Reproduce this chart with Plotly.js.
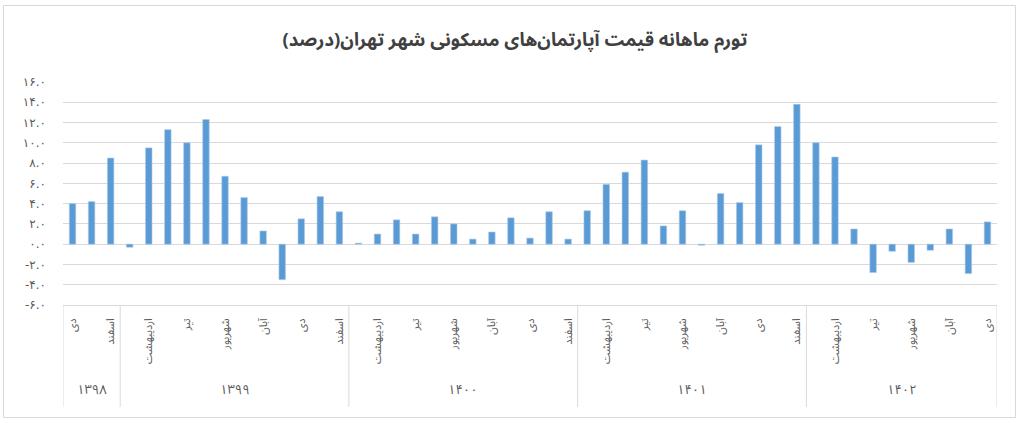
<!DOCTYPE html>
<html>
<head>
<meta charset="utf-8">
<script src="https://cdn.plot.ly/plotly-3.0.1.min.js"></script>
<style>
  html, body { margin: 0; padding: 0; background: #ffffff; }
  #chart { width: 1024px; height: 423px; }
</style>
</head>
<body>
<div id="chart"></div>
<script>
// ---- Data ----
const titleText = 'تورم ماهانه قیمت آپارتمان‌های مسکونی شهر تهران(درصد)';

const yearLabels = ['۱۳۹۸', '۱۳۹۹', '۱۴۰۰', '۱۴۰۱', '۱۴۰۲'];
const yearCounts = [3, 12, 12, 12, 10];

const months = [
  'دی', 'بهمن', 'اسفند',
  'فروردین', 'اردیبهشت', 'خرداد', 'تیر', 'مرداد', 'شهریور', 'مهر', 'آبان', 'آذر', 'دی', 'بهمن', 'اسفند',
  'فروردین', 'اردیبهشت', 'خرداد', 'تیر', 'مرداد', 'شهریور', 'مهر', 'آبان', 'آذر', 'دی', 'بهمن', 'اسفند',
  'فروردین', 'اردیبهشت', 'خرداد', 'تیر', 'مرداد', 'شهریور', 'مهر', 'آبان', 'آذر', 'دی', 'بهمن', 'اسفند',
  'فروردین', 'اردیبهشت', 'خرداد', 'تیر', 'مرداد', 'شهریور', 'مهر', 'آبان', 'آذر', 'دی'
];

const values = [
  4.0, 4.2, 8.5,
  -0.3, 9.5, 11.3, 10.0, 12.3, 6.7, 4.6, 1.3, -3.5, 2.5, 4.7, 3.2,
  0.1, 1.0, 2.4, 1.0, 2.7, 2.0, 0.5, 1.2, 2.6, 0.6, 3.2, 0.5,
  3.3, 5.9, 7.1, 8.3, 1.8, 3.3, -0.1, 5.0, 4.1, 9.8, 11.6, 13.8,
  10.0, 8.6, 1.5, -2.8, -0.7, -1.8, -0.6, 1.5, -2.9, 2.2
];

const yTickVals = [-6, -4, -2, 0, 2, 4, 6, 8, 10, 12, 14, 16];

// ---- Helpers ----
const faDigits = ['۰','۱','۲','۳','۴','۵','۶','۷','۸','۹'];
function toFa(str) { return String(str).replace(/[0-9]/g, d => faDigits[+d]); }
const yTickText = yTickVals.map(v => (v < 0 ? '-' : '') + toFa(Math.abs(v).toFixed(1)));

const xIdx = months.map((_, i) => i);
const shownIdx = xIdx.filter(i => i % 2 === 0);
const shownText = shownIdx.map(i => months[i]);

const FONT = '"Noto Sans Arabic", "Noto Sans", "DejaVu Sans", sans-serif';
const TICKFONT = '"DejaVu Sans", "Noto Sans", sans-serif';
const GRID = '#d9d9d9';

// plot area geometry in px (for paper conversion of outside decorations)
const W = 1024, H = 423;
const M = { l: 63, r: 27, t: 82, b: 118 };
const plotH = H - M.t - M.b;
const plotW = W - M.l - M.r;
const pyToPaper = py => (H - M.b - py) / plotH;
const pxToPaper = px => (px - M.l) / plotW;

// group boundaries & year label positions
const shapes = [];
const annotations = [];
let start = 0;
const boundaries = [-0.5];
yearCounts.forEach((c, gi) => {
  const center = start + (c - 1) / 2;
  annotations.push({
    x: center, xref: 'x', y: pyToPaper(390), yref: 'paper',
    text: yearLabels[gi], showarrow: false,
    font: { family: FONT, size: 13, color: '#595959' },
    xanchor: 'center', yanchor: 'middle'
  });
  start += c;
  boundaries.push(start - 0.5);
});
boundaries.forEach(b => {
  shapes.push({
    type: 'line', xref: 'x', yref: 'paper',
    x0: b, x1: b, y0: 0, y1: pyToPaper(407),
    line: { color: GRID, width: 1 }
  });
});
// outer chart border
shapes.push({
  type: 'rect', xref: 'paper', yref: 'paper',
  x0: pxToPaper(3.5), x1: pxToPaper(1015.5), y0: pyToPaper(417.5), y1: pyToPaper(5.5),
  line: { color: GRID, width: 1 }, fillcolor: 'rgba(0,0,0,0)', layer: 'below'
});

const trace = {
  type: 'bar',
  x: xIdx,
  y: values,
  marker: { color: '#5b9bd5', line: { color: '#a9c9ea', width: 0.6 } },
  hoverinfo: 'y'
};

const layout = {
  width: W, height: H,
  margin: M,
  paper_bgcolor: '#ffffff',
  plot_bgcolor: '#ffffff',
  showlegend: false,
  bargap: 0.66,
  title: {
    text: titleText,
    x: 515 / W, xref: 'container', xanchor: 'center',
    y: 1 - 40 / H, yref: 'container', yanchor: 'middle',
    font: { family: FONT, size: 18.5, color: '#404040', weight: 'bold' }
  },
  xaxis: {
    range: [-0.5, 48.5],
    tickmode: 'array',
    tickvals: shownIdx,
    ticktext: shownText,
    tickangle: -90,
    ticks: '',
    ticklabelstandoff: 8,
    showgrid: false,
    zeroline: false,
    showline: true,
    linecolor: GRID,
    linewidth: 1,
    tickfont: { family: FONT, size: 11, color: '#595959' },
    fixedrange: true
  },
  yaxis: {
    range: [-6, 16],
    tickmode: 'array',
    tickvals: yTickVals,
    ticktext: yTickText,
    ticks: '',
    ticklabelstandoff: 16,
    showgrid: true,
    gridcolor: GRID,
    gridwidth: 1,
    zeroline: true,
    zerolinecolor: GRID,
    zerolinewidth: 1,
    showline: false,
    tickfont: { family: TICKFONT, size: 12, color: '#595959' },
    fixedrange: true
  },
  shapes: shapes,
  annotations: annotations
};

Plotly.newPlot('chart', [trace], layout, { displayModeBar: false, staticPlot: true });
</script>
</body>
</html>
